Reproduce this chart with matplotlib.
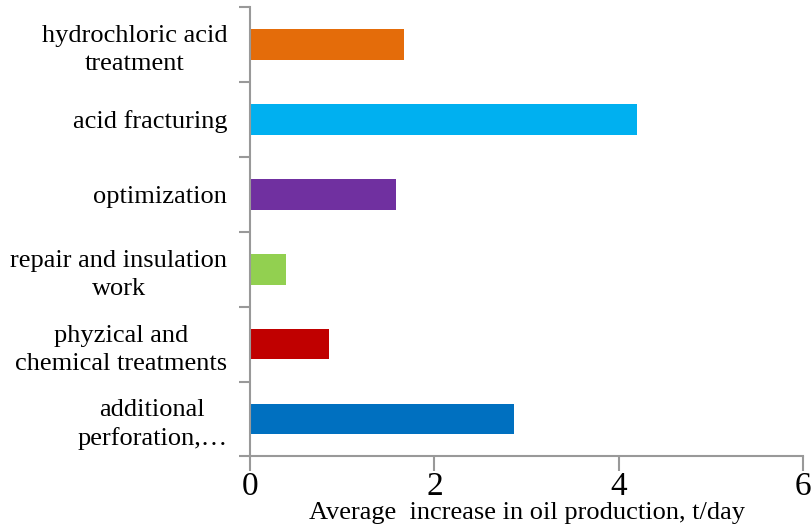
import matplotlib.pyplot as plt
import numpy as np

# Données (de bas en haut)
categories = ["additional\nperforation,…",
              "phyzical and\nchemical treatments",
              "repair and insulation\nwork",
              "optimization",
              "acid fracturing",
              "hydrochloric acid\ntreatment"]
increase = [2.86, 0.86, 0.39, 1.58, 4.20, 1.67]
colors = ['#0070C0', '#C00000', '#92D050', '#7030A0', '#00B0F0', '#E46C0A']
x_ticks = [0, 2, 4, 6]

plt.rcParams['font.family'] = ['Liberation Serif', 'DejaVu Serif']

fig = plt.figure(figsize=(8.12, 5.30), dpi=100)
ax = fig.add_axes([0.308, 0.1387, 0.681, 0.848])

pos = np.arange(len(categories))
ax.barh(pos, increase, height=0.41, color=colors)

ax.set_xlim(0, 6)
ax.set_ylim(-0.5, len(categories) - 0.5)
ax.set_xticks(x_ticks)
ax.set_xticklabels([str(t) for t in x_ticks], fontsize=24)
ax.set_yticks(pos)
ax.set_yticklabels(categories, fontsize=19, ha='right', multialignment='center',
                   linespacing=1.35)
ax.set_yticks(np.arange(-0.5, len(categories)), minor=True)

ax.tick_params(axis='y', which='major', length=0, pad=16.5)
ax.tick_params(axis='y', which='minor', length=8, width=1.5, color='#999999')
ax.tick_params(axis='x', which='major', length=11, width=1.5, color='#999999', pad=0)

for side in ['top', 'right']:
    ax.spines[side].set_visible(False)
for side in ['left', 'bottom']:
    ax.spines[side].set_color('#999999')
    ax.spines[side].set_linewidth(1.5)

ax.set_xlabel('Average  increase in oil production, t/day', fontsize=19, va='top')
ax.xaxis.set_label_coords(0.5, -0.102)

plt.savefig('out.png', dpi=100)
